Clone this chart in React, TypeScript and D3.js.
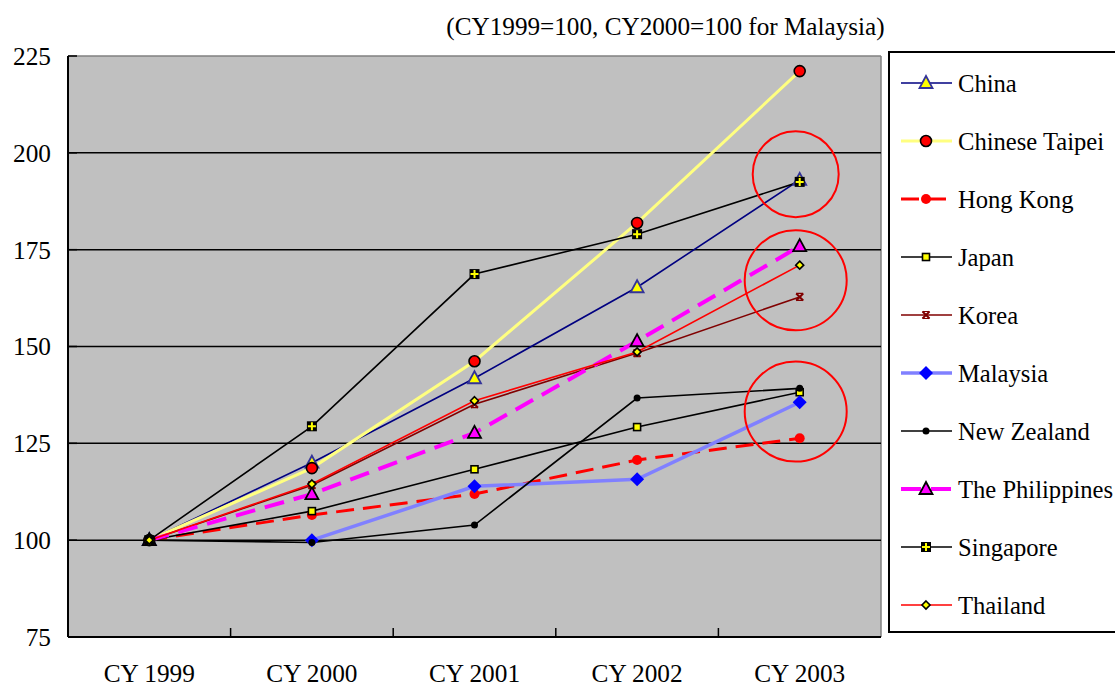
import React from 'react';
import * as d3 from 'd3';

// Index values per calendar year
const categories = ['CY 1999', 'CY 2000', 'CY 2001', 'CY 2002', 'CY 2003'];
const yTicks = [75, 100, 125, 150, 175, 200, 225];

const china = [100, 120.0, 141.8, 165.3, 193.0];
const chineseTaipei = [100, 118.6, 146.2, 181.9, 221.1];
const hongKong = [100, 106.5, 111.9, 120.7, 126.3];
const japan = [100, 107.5, 118.3, 129.2, 138.2];
const korea = [100, 114.2, 135.1, 148.3, 162.8];
const malaysia: (number | null)[] = [null, 100, 113.9, 115.7, 135.6];
const newZealand = [100, 99.4, 103.9, 136.7, 139.2];
const philippines = [100, 111.9, 127.7, 151.4, 175.9];
const singapore = [100, 129.4, 168.7, 179.0, 192.5];
const thailand = [100, 114.5, 136.0, 148.6, 171.0];

// Highlighted groups in the final year: centre value and ring radii in pixels
const highlights = [
  { value: 194.5, rx: 43, ry: 43 },
  { value: 167.1, rx: 51, ry: 50 },
  { value: 133.2, rx: 51, ry: 50 },
];

type MarkerKind =
  | 'triYellow'
  | 'circleRedOutlined'
  | 'circleRed'
  | 'squareYellow'
  | 'star'
  | 'diamondBlue'
  | 'dot'
  | 'triMagenta'
  | 'squarePlus'
  | 'diamondSmall';

interface Series {
  name: string;
  values: (number | null)[];
  color: string;
  width: number;
  dash?: string;
  marker: MarkerKind;
}

const series: Series[] = [
  { name: 'China', values: china, color: '#000080', width: 1.6, marker: 'triYellow' },
  { name: 'Chinese Taipei', values: chineseTaipei, color: '#FFFF80', width: 3, marker: 'circleRedOutlined' },
  { name: 'Hong Kong', values: hongKong, color: '#FF0000', width: 3, dash: '18,9', marker: 'circleRed' },
  { name: 'Japan', values: japan, color: '#000000', width: 1.6, marker: 'squareYellow' },
  { name: 'Korea', values: korea, color: '#800000', width: 1.6, marker: 'star' },
  { name: 'Malaysia', values: malaysia, color: '#8080FF', width: 3.5, marker: 'diamondBlue' },
  { name: 'New Zealand', values: newZealand, color: '#000000', width: 1.6, marker: 'dot' },
  { name: 'The Philippines', values: philippines, color: '#FF00FF', width: 4, dash: '20,10', marker: 'triMagenta' },
  { name: 'Singapore', values: singapore, color: '#000000', width: 1.6, marker: 'squarePlus' },
  { name: 'Thailand', values: thailand, color: '#FF0000', width: 1.6, marker: 'diamondSmall' },
];

const FONT = "'Liberation Serif', 'DejaVu Serif', serif";
const textStyle: React.CSSProperties = { fontFamily: FONT };

function Marker({ kind, x, y }: { kind: MarkerKind; x: number; y: number }) {
  switch (kind) {
    case 'triYellow':
      return (
        <path
          d={`M${x},${y - 7}L${x + 6.5},${y + 5}L${x - 6.5},${y + 5}Z`}
          fill="#FFFF00"
          stroke="#333399"
          strokeWidth={1.8}
        />
      );
    case 'triMagenta':
      return (
        <path
          d={`M${x},${y - 7}L${x + 6.5},${y + 5}L${x - 6.5},${y + 5}Z`}
          fill="#FF00FF"
          stroke="#000000"
          strokeWidth={1.8}
        />
      );
    case 'circleRedOutlined':
      return <circle cx={x} cy={y} r={5.5} fill="#FF0000" stroke="#000000" strokeWidth={1.6} />;
    case 'circleRed':
      return <circle cx={x} cy={y} r={5} fill="#FF0000" />;
    case 'squareYellow':
      return <rect x={x - 3.5} y={y - 3.5} width={7} height={7} fill="#FFFF00" stroke="#000000" strokeWidth={1.6} />;
    case 'star':
      return (
        <g stroke="#800000" strokeWidth={2}>
          <path d={`M${x - 3.5},${y - 3.5}L${x + 3.5},${y + 3.5}M${x + 3.5},${y - 3.5}L${x - 3.5},${y + 3.5}`} />
          <path d={`M${x - 3.5},${y - 3.5}L${x + 3.5},${y - 3.5}M${x - 3.5},${y + 3.5}L${x + 3.5},${y + 3.5}`} strokeWidth={1.2} />
        </g>
      );
    case 'diamondBlue':
      return <path d={`M${x},${y - 7}L${x + 7},${y}L${x},${y + 7}L${x - 7},${y}Z`} fill="#0000FF" />;
    case 'dot':
      return <circle cx={x} cy={y} r={3.5} fill="#000000" />;
    case 'squarePlus':
      return (
        <g>
          <rect x={x - 5} y={y - 5} width={10} height={10} fill="#000000" />
          <path d={`M${x - 4},${y}L${x + 4},${y}M${x},${y - 4}L${x},${y + 4}`} stroke="#FFFF00" strokeWidth={2} />
        </g>
      );
    case 'diamondSmall':
      return (
        <path
          d={`M${x},${y - 4}L${x + 4},${y}L${x},${y + 4}L${x - 4},${y}Z`}
          fill="#FFFF00"
          stroke="#000000"
          strokeWidth={1.6}
        />
      );
  }
  return null;
}

export default function App() {
  const W = 1115;
  const H = 686;
  const left = 68;
  const right = 881;
  const top = 56;
  const bottom = 637;

  const x = d3.scaleBand<string>().domain(categories).range([left, right]).padding(0);
  const y = d3.scaleLinear().domain([75, 225]).range([bottom, top]);
  const cx = (c: string) => (x(c) as number) + x.bandwidth() / 2;

  const line = d3
    .line<number | null>()
    .defined((d) => d !== null)
    .x((_, i) => cx(categories[i]))
    .y((d) => y(d as number));

  const bandEdges = d3.range(1, categories.length).map((i) => left + i * x.bandwidth());

  const legendX = 889;
  const legendY = 52;
  const legendRow0 = 83;
  const legendStep = 58;

  const lastCat = categories[categories.length - 1];

  return (
    <svg
      width={W}
      height={H}
      style={{ position: 'absolute', left: 0, top: 0, display: 'block', background: '#ffffff' }}
    >
      <text x={665.5} y={35} fontSize={25.2} textAnchor="middle" fill="#000" style={textStyle}>
        (CY1999=100, CY2000=100 for Malaysia)
      </text>

      {/* plot area */}
      <rect x={left} y={top} width={right - left} height={bottom - top} fill="#C0C0C0" />
      <line x1={left} x2={right} y1={top} y2={top} stroke="#808080" strokeWidth={1.5} />
      <line x1={right} x2={right} y1={top} y2={bottom} stroke="#808080" strokeWidth={1.5} />

      {yTicks
        .filter((t) => t > 75 && t < 225)
        .map((t) => (
          <line key={t} x1={left} x2={right} y1={y(t)} y2={y(t)} stroke="#000" strokeWidth={1.5} />
        ))}

      {/* axes */}
      <line x1={left} x2={left} y1={top} y2={bottom} stroke="#000" strokeWidth={2} />
      <line x1={left} x2={right} y1={bottom} y2={bottom} stroke="#000" strokeWidth={2} />
      {yTicks.map((t) => (
        <line key={`yt${t}`} x1={left} x2={left + 9} y1={y(t)} y2={y(t)} stroke="#000" strokeWidth={1.5} />
      ))}
      {bandEdges.map((e, i) => (
        <line key={`xt${i}`} x1={e} x2={e} y1={bottom} y2={bottom - 9} stroke="#000" strokeWidth={1.5} />
      ))}

      {yTicks.map((t) => (
        <text key={`yl${t}`} x={51} y={y(t)} dy="0.35em" textAnchor="end" fontSize={25.3} fill="#000" style={textStyle}>
          {t}
        </text>
      ))}
      {categories.map((c) => (
        <text key={c} x={cx(c)} y={682} textAnchor="middle" fontSize={25.3} fill="#000" style={textStyle}>
          {c}
        </text>
      ))}

      {/* series lines */}
      {series.map((s) => (
        <path
          key={`l-${s.name}`}
          d={line(s.values) || ''}
          fill="none"
          stroke={s.color}
          strokeWidth={s.width}
          strokeDasharray={s.dash}
        />
      ))}
      {series.map((s) => (
        <g key={`m-${s.name}`}>
          {s.values.map((v, i) =>
            v === null ? null : <Marker key={i} kind={s.marker} x={cx(categories[i])} y={y(v)} />
          )}
        </g>
      ))}

      {/* highlight rings around the final-year groups */}
      {highlights.map((h, i) => (
        <ellipse
          key={`h${i}`}
          cx={cx(lastCat) - 4}
          cy={y(h.value)}
          rx={h.rx}
          ry={h.ry}
          fill="none"
          stroke="#FF0000"
          strokeWidth={2}
        />
      ))}

      {/* legend */}
      <rect x={legendX} y={legendY} width={W - legendX + 10} height={632 - legendY} fill="#fff" stroke="#000" strokeWidth={2} />
      {series.map((s, i) => {
        const ly = legendRow0 + i * legendStep;
        return (
          <g key={`lg-${s.name}`}>
            <line
              x1={901}
              x2={952}
              y1={ly}
              y2={ly}
              stroke={s.color}
              strokeWidth={s.width}
              strokeDasharray={s.dash}
            />
            <Marker kind={s.marker} x={926} y={ly} />
            <text x={958} y={ly} dy="0.35em" fontSize={24.6} fill="#000" style={textStyle}>
              {s.name}
            </text>
          </g>
        );
      })}
    </svg>
  );
}
